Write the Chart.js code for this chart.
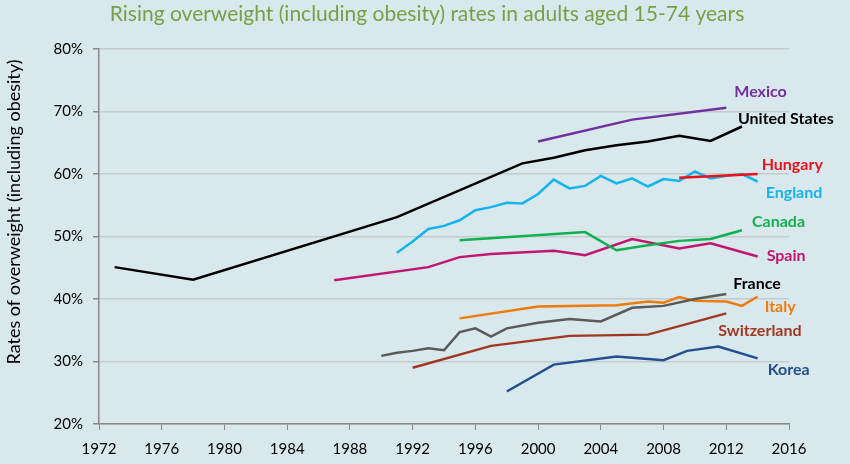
<!DOCTYPE html>
<html>
<head>
<meta charset="utf-8">
<script src="https://cdn.jsdelivr.net/npm/chart.js@4/dist/chart.umd.min.js"></script>
<style>
  html, body { margin: 0; padding: 0; background: #d9e8ec; }
  #wrap { width: 850px; height: 464px; position: relative; }
</style>
</head>
<body>
<div id="wrap"><canvas id="chart" width="850" height="464"></canvas></div>
<script>
// data (year, % overweight incl. obesity)
const mexicoYears = [2000, 2006, 2012];
const mexicoValues = [65.2, 68.7, 70.6];

const usYears = [1973, 1978, 1991, 1999, 2001, 2003, 2005, 2007, 2009, 2011, 2013];
const usValues = [45.1, 43.1, 53.1, 61.7, 62.6, 63.8, 64.6, 65.2, 66.1, 65.3, 67.6];

const hungaryYears = [2009, 2014];
const hungaryValues = [59.4, 60.0];

const englandYears = [1991, 1992, 1993, 1994, 1995, 1996, 1997, 1998, 1999, 2000, 2001, 2002,
    2003, 2004, 2005, 2006, 2007, 2008, 2009, 2010, 2011, 2012, 2013, 2014];
const englandValues = [47.4, 49.2, 51.2, 51.7, 52.6, 54.2, 54.7, 55.4, 55.3, 56.8, 59.1, 57.7,
    58.1, 59.7, 58.5, 59.3, 58.0, 59.2, 58.9, 60.4, 59.3, 59.7, 60.0, 58.8];

const canadaYears = [1995, 2003, 2005, 2007, 2009, 2011, 2013];
const canadaValues = [49.4, 50.7, 47.8, 48.6, 49.3, 49.6, 51.0];

const spainYears = [1987, 1993, 1995, 1997, 2001, 2003, 2006, 2009, 2011, 2014];
const spainValues = [43.0, 45.1, 46.7, 47.2, 47.7, 47.0, 49.6, 48.1, 48.9, 46.8];

const franceYears = [1990, 1991, 1992, 1993, 1994, 1995, 1996, 1997, 1998, 2000, 2002, 2004,
    2006, 2008, 2010, 2012];
const franceValues = [30.9, 31.4, 31.7, 32.1, 31.8, 34.7, 35.3, 34.0, 35.3, 36.2, 36.8, 36.4,
    38.6, 38.9, 40.0, 40.8];

const italyYears = [1995, 2000, 2005, 2007, 2008, 2009, 2010, 2012, 2013, 2014];
const italyValues = [36.9, 38.8, 39.0, 39.6, 39.4, 40.3, 39.7, 39.6, 38.9, 40.4];

const switzerlandYears = [1992, 1997, 2002, 2007, 2012];
const switzerlandValues = [29.0, 32.5, 34.1, 34.3, 37.7];

const koreaYears = [1998, 2001, 2005, 2008, 2009.5, 2011.5, 2014];
const koreaValues = [25.2, 29.5, 30.8, 30.2, 31.7, 32.4, 30.5];

const xTicks = [1972, 1976, 1980, 1984, 1988, 1992, 1996, 2000, 2004, 2008, 2012, 2016];
const yTicks = [20, 30, 40, 50, 60, 70, 80];

const series = [
    { name: 'Mexico', years: mexicoYears, values: mexicoValues, color: '#7030a0', text: '#7030a0', dx: 8, dy: -16 },
    { name: 'United States', years: usYears, values: usValues, color: '#000000', text: '#000000', dx: -4, dy: -8 },
    { name: 'Hungary', years: hungaryYears, values: hungaryValues, color: '#e8141c', text: '#e8141c', dx: 4, dy: -9 },
    { name: 'England', years: englandYears, values: englandValues, color: '#14b4ee', text: '#14b4ee', dx: 8, dy: 11 },
    { name: 'Canada', years: canadaYears, values: canadaValues, color: '#10b050', text: '#10b050', dx: 10, dy: -8 },
    { name: 'Spain', years: spainYears, values: spainValues, color: '#c0166e', text: '#c0166e', dx: 9, dy: -1 },
    { name: 'France', years: franceYears, values: franceValues, color: '#5a5a5a', text: '#000000', dx: 7, dy: -10 },
    { name: 'Italy', years: italyYears, values: italyValues, color: '#f07a0c', text: '#f07a0c', dx: 7, dy: 10 },
    { name: 'Switzerland', years: switzerlandYears, values: switzerlandValues, color: '#a03820', text: '#a03820', dx: -8, dy: 17 },
    { name: 'Korea', years: koreaYears, values: koreaValues, color: '#22508e', text: '#22508e', dx: 10, dy: 11 },
];

const datasets = series.map((s) => ({
    label: s.name,
    data: s.years.map((yr, i) => ({ x: yr, y: s.values[i] })),
    borderColor: s.color,
    borderWidth: 2.5,
    pointRadius: 0,
    tension: 0,
    fill: false,
}));

// end labels + title + y axis title
const decorations = {
    id: 'decorations',
    afterDatasetsDraw(chart) {
        const ctx = chart.ctx;
        ctx.save();
        ctx.font = 'bold 16px Lato';
        ctx.textAlign = 'left';
        ctx.textBaseline = 'middle';
        series.forEach((s, i) => {
            const pts = chart.getDatasetMeta(i).data;
            const last = pts[pts.length - 1];
            ctx.fillStyle = s.text;
            ctx.fillText(s.name, last.x + s.dx, last.y + s.dy);
        });

        ctx.font = '21px Lato';
        ctx.fillStyle = '#77a046';
        ctx.textAlign = 'center';
        ctx.fillText('Rising overweight (including obesity) rates in adults aged 15-74 years', 427, 14);

        ctx.translate(14, 212);
        ctx.rotate(-Math.PI / 2);
        ctx.font = '18px Lato';
        ctx.fillStyle = '#000000';
        ctx.fillText('Rates of overweight (including obesity)', 0, 0);
        ctx.restore();
    },
};

new Chart(document.getElementById('chart'), {
    type: 'line',
    data: { datasets },
    options: {
        responsive: false,
        animation: false,
        layout: { padding: { top: 49, right: 61, left: 0, bottom: 0 } },
        plugins: { legend: { display: false }, tooltip: { enabled: false } },
        scales: {
            x: {
                type: 'linear',
                min: 1972,
                max: 2016,
                afterBuildTicks: (axis) => { axis.ticks = xTicks.map((v) => ({ value: v })); },
                afterFit: (axis) => { axis.height = 40; },
                ticks: { color: '#000', font: { family: 'Lato', size: 15 }, padding: 10, callback: (v) => String(v) },
                grid: { drawOnChartArea: false, tickLength: 6, tickColor: '#888888' },
                border: { color: '#888888', width: 1.5 },
            },
            y: {
                min: 20,
                max: 80,
                afterBuildTicks: (axis) => { axis.ticks = yTicks.map((v) => ({ value: v })); },
                afterFit: (axis) => { axis.width = 99; },
                ticks: { color: '#000', font: { family: 'Lato', size: 15 }, padding: 10, callback: (v) => v + '%' },
                grid: { color: '#c3cbcd', lineWidth: 1.5, tickLength: 6, tickColor: '#888888' },
                border: { color: '#888888', width: 1.5 },
            },
        },
    },
    plugins: [decorations],
});
</script>
</body>
</html>
